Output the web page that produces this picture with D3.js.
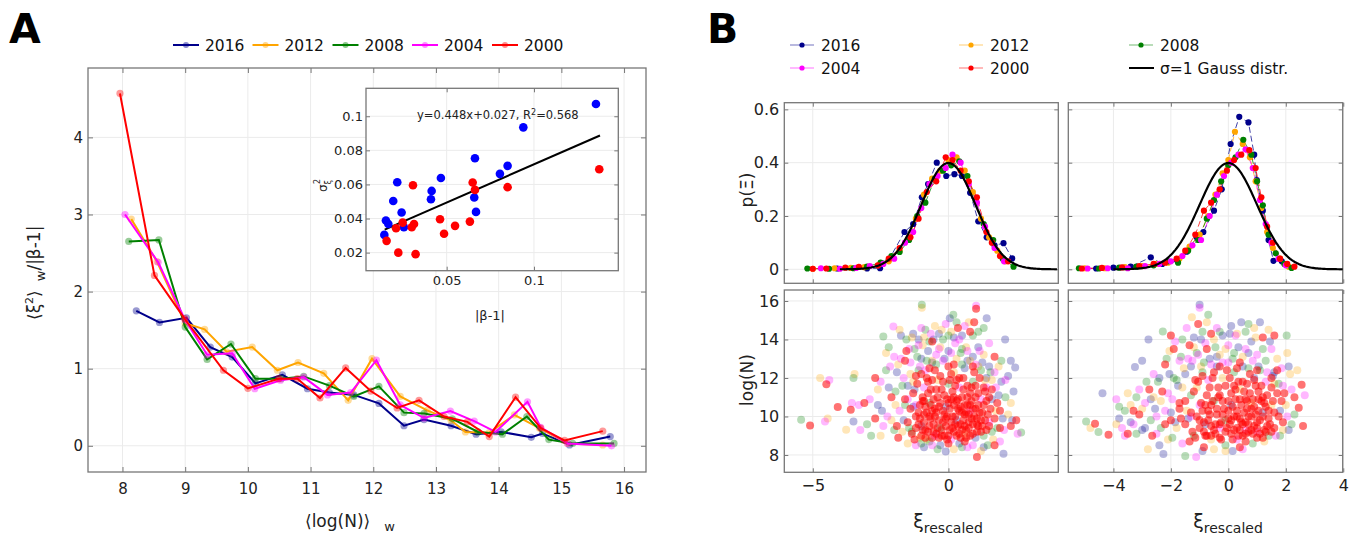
<!DOCTYPE html>
<html>
<head>
<meta charset="utf-8">
<title>Rescaled fluctuations</title>
<script src="https://cdn.jsdelivr.net/npm/d3@7"></script>
<style>
  body { margin: 0; background: #fff; }
  svg { font-family: "DejaVu Sans", Verdana, sans-serif; }
</style>
</head>
<body>
<script>
const years = ['2016', '2012', '2008', '2004', '2000'];
const yearColors = ['#00008b', '#ffa500', '#008000', '#ff00ff', '#ff0000'];

// panel A: <log(N)>_w  vs  <xi^2>_w / |beta-1|
const a2016 = [[8.22,1.75],[8.59,1.60],[9.02,1.66],[9.40,1.28],[9.75,1.15],[10.12,0.81],[10.55,0.92],[10.95,0.74],[11.3,0.69],[11.69,0.66],[12.09,0.55],[12.49,0.26],[12.81,0.34],[13.24,0.26],[13.64,0.15],[14.04,0.18],[14.52,0.11],[14.7,0.16],[15.13,0.01],[15.78,0.12]];
const a2012 = [[8.14,2.94],[8.55,2.39],[9.0,1.59],[9.31,1.51],[9.66,1.22],[10.07,1.28],[10.47,0.98],[10.80,1.08],[11.21,0.94],[11.6,0.59],[11.98,1.13],[12.43,0.64],[12.86,0.46],[13.24,0.33],[13.47,0.18],[13.85,0.17],[14.25,0.40],[14.65,0.23],[15.1,0.03],[15.66,0.01]];
const a2008 = [[8.1,2.65],[8.58,2.67],[9.0,1.54],[9.35,1.12],[9.73,1.32],[10.12,0.87],[10.53,0.87],[10.89,0.90],[11.3,0.78],[11.69,0.64],[12.09,0.77],[12.49,0.43],[12.81,0.42],[13.26,0.35],[13.67,0.18],[14.06,0.15],[14.45,0.38],[14.8,0.08],[15.18,0.03],[15.84,0.03]];
const a2004 = [[8.04,3.0],[8.57,2.38],[9.0,1.63],[9.35,1.18],[9.75,1.2],[10.11,0.74],[10.52,0.85],[10.89,0.89],[11.27,0.66],[11.64,0.69],[12.05,1.11],[12.43,0.53],[12.81,0.36],[13.23,0.45],[13.61,0.32],[13.95,0.18],[14.46,0.57],[14.67,0.24],[15.1,0.03],[15.8,0.0]];
const a2000 = [[7.96,4.57],[8.51,2.21],[8.99,1.65],[9.61,0.98],[10.0,0.745],[10.49,0.87],[10.79,0.87],[11.15,0.62],[11.56,1.01],[11.96,0.71],[12.38,0.49],[12.73,0.59],[13.13,0.38],[13.5,0.31],[13.85,0.12],[14.27,0.63],[14.67,0.23],[15.05,0.07],[15.66,0.19]];
const aTicksX = [8, 9, 10, 11, 12, 13, 14, 15, 16];
const aTicksY = [0, 1, 2, 3, 4];

// inset: |beta-1| vs sigma_xi^2
const insetBlue = [[0.1355,0.1072],[0.0939,0.0935],[0.0662,0.0754],[0.0849,0.0709],[0.0805,0.0662],[0.0467,0.0638],[0.0217,0.0613],[0.0414,0.0562],[0.041,0.0513],[0.0658,0.0523],[0.0194,0.0503],[0.0668,0.0439],[0.0242,0.0435],[0.0152,0.0388],[0.0166,0.0368],[0.0255,0.0349],[0.0143,0.0304]];
const insetRed = [[0.1374,0.0689],[0.0649,0.0611],[0.0662,0.0568],[0.0849,0.0584],[0.0307,0.0595],[0.0462,0.0396],[0.0633,0.0382],[0.0548,0.0357],[0.0485,0.0311],[0.0313,0.0368],[0.03,0.0349],[0.0248,0.0376],[0.021,0.0343],[0.0156,0.0269],[0.0223,0.02],[0.0322,0.0191]];
const fitSlope = 0.448, fitIntercept = 0.027, fitRange = [0.0145, 0.1378];
const insetTicksX = [0.05, 0.1];
const insetTicksY = [0.02, 0.04, 0.06, 0.08, 0.1];

// panel B top: p(xi), left and right
const pL2016 = [[-4.1,0.003],[-3.0,0.003],[-2.52,0.004],[-2.2,0.035],[-1.62,0.14],[-1.3,0.17],[-0.98,0.27],[-0.75,0.32],[-0.43,0.40],[-0.08,0.35],[0.22,0.357],[0.5,0.35],[0.8,0.287],[1.1,0.18],[1.41,0.12],[1.7,0.09],[2.03,0.098],[2.35,0.041]];
const pL2012 = [[-5.0,0.002],[-4.2,0.004],[-3.6,0.005],[-3.1,0.008],[-2.6,0.015],[-2.2,0.03],[-1.8,0.07],[-1.5,0.11],[-1.2,0.19],[-0.9,0.28],[-0.6,0.34],[-0.3,0.37],[0.0,0.41],[0.3,0.42],[0.6,0.37],[0.9,0.29],[1.2,0.19],[1.5,0.12],[1.8,0.07],[2.1,0.03]];
const pL2008 = [[-5.2,0.003],[-4.4,0.002],[-3.5,0.004],[-3.0,0.01],[-2.5,0.025],[-2.1,0.05],[-1.8,0.065],[-1.45,0.11],[-1.15,0.2],[-0.85,0.25],[-0.5,0.34],[-0.2,0.37],[0.1,0.39],[0.4,0.405],[0.7,0.35],[1.0,0.26],[1.3,0.17],[1.65,0.11],[2.0,0.04],[2.4,0.01]];
const pL2004 = [[-4.7,0.004],[-4.0,0.002],[-3.4,0.005],[-2.9,0.012],[-2.4,0.02],[-2.0,0.04],[-1.6,0.1],[-1.3,0.14],[-1.0,0.23],[-0.7,0.32],[-0.4,0.35],[-0.1,0.38],[0.15,0.43],[0.45,0.4],[0.75,0.32],[1.05,0.25],[1.35,0.16],[1.7,0.08],[2.05,0.03]];
const pL2000 = [[-5.0,0.002],[-4.5,0.003],[-3.8,0.006],[-3.3,0.009],[-2.6,0.015],[-2.2,0.04],[-1.8,0.08],[-1.4,0.12],[-1.1,0.19],[-0.8,0.29],[-0.45,0.33],[-0.1,0.42],[0.15,0.41],[0.45,0.37],[0.75,0.33],[1.05,0.27],[1.4,0.14],[1.6,0.1],[1.9,0.05],[2.2,0.03]];

const pR2016 = [[-4.6,0.003],[-4.0,0.006],[-3.4,0.01],[-2.7,0.045],[-2.3,0.02],[-1.77,0.032],[-1.45,0.066],[-1.1,0.12],[-0.87,0.14],[-0.5,0.22],[-0.23,0.30],[0.08,0.47],[0.38,0.572],[0.7,0.551],[0.9,0.43],[0.99,0.335],[1.2,0.22],[1.4,0.11],[1.57,0.032],[1.86,0.03]];
const pR2012 = [[-5.0,0.004],[-4.3,0.004],[-3.6,0.008],[-3.0,0.012],[-2.5,0.02],[-2.1,0.025],[-1.7,0.04],[-1.35,0.085],[-1.0,0.13],[-0.7,0.2],[-0.45,0.28],[-0.2,0.36],[0.0,0.41],[0.23,0.516],[0.5,0.47],[0.75,0.42],[0.95,0.33],[1.15,0.23],[1.35,0.14],[1.55,0.08],[1.8,0.04],[2.1,0.01]];
const pR2008 = [[-5.2,0.004],[-4.5,0.003],[-3.8,0.006],[-3.2,0.01],[-2.6,0.015],[-2.1,0.03],[-1.75,0.025],[-1.4,0.07],[-1.05,0.11],[-0.75,0.19],[-0.5,0.26],[-0.25,0.33],[0.0,0.39],[0.25,0.42],[0.52,0.486],[0.8,0.43],[1.0,0.33],[1.2,0.24],[1.4,0.13],[1.65,0.06],[1.95,0.02],[2.2,0.005]];
const pR2004 = [[-4.9,0.003],[-4.2,0.004],[-3.5,0.004],[-2.9,0.012],[-2.4,0.02],[-2.0,0.03],[-1.6,0.05],[-1.25,0.09],[-0.95,0.11],[-0.65,0.2],[-0.4,0.28],[-0.15,0.35],[0.1,0.40],[0.35,0.43],[0.6,0.45],[0.85,0.38],[1.1,0.26],[1.3,0.17],[1.5,0.1],[1.75,0.04],[2.0,0.015]];
const pR2000 = [[-5.1,0.003],[-4.4,0.005],[-3.7,0.007],[-3.1,0.012],[-2.6,0.02],[-2.2,0.025],[-1.8,0.04],[-1.5,0.07],[-1.15,0.13],[-0.85,0.22],[-0.6,0.25],[-0.3,0.30],[-0.05,0.37],[0.2,0.41],[0.45,0.43],[0.73,0.447],[0.95,0.38],[1.15,0.27],[1.35,0.16],[1.55,0.1],[1.8,0.04],[2.05,0.02],[2.3,0.01]];
const gaussRange = [-4, 4];

// panel B bottom: xi_rescaled vs log(N), [xi, logN, year index]
const sLmixed = [[-5.43,9.83,2],[-5.1,9.53,4],[-4.73,12.0,1],[-4.39,11.9,3],[-4.5,11.68,4],[-4.55,9.74,3],[-4.45,9.9,1],[-4.08,10.49,4],[-3.77,9.31,1],[-3.46,12.2,1],[-3.5,12.0,2],[-3.56,10.7,3],[-3.6,10.35,4],[-3.5,9.74,0],[-3.3,10.6,3],[-3.1,10.7,4],[-3.25,9.3,3],[-3.0,9.6,2],[-2.9,10.9,3],[-2.85,9.0,2],[-2.7,9.9,4],[-2.6,11.4,1],[-2.7,12.0,4],[-2.5,11.8,3],[-2.45,10.3,0],[-2.4,9.5,3],[-2.4,14.16,2],[-2.3,13.3,1],[-2.2,13.6,2],[-2.15,12.6,3],[-2.1,11.0,4],[-2.03,14.68,3],[-2.0,9.3,2],[-1.95,10.6,1],[-1.9,12.3,0],[-1.85,8.9,4],[-1.8,14.5,1],[-1.75,13.0,3],[-1.7,11.6,2],[-1.65,9.8,0],[-1.6,12.9,4],[-1.55,14.0,2],[-1.5,10.9,3],[-1.5,8.6,1],[-1.45,13.5,3],[-1.4,12.2,1],[-1.35,9.2,2],[-1.3,14.3,0],[-1.25,11.4,0],[-1.2,8.5,3],[-1.15,13.1,2],[-1.1,14.0,0],[-1.05,12.6,3],[-1.0,14.6,3],[-0.98,15.8,2],[-0.98,15.65,1],[-0.95,13.7,1],[-0.9,8.4,0],[-0.85,14.5,2],[-0.8,12.9,2],[-0.75,13.4,0],[-0.7,8.7,2],[-0.65,14.3,3],[-0.6,13.9,4],[-0.5,14.7,1],[-0.45,13.2,3],[-0.4,8.3,2],[-0.35,14.3,0],[-0.3,13.6,1],[-0.2,14.0,2],[-0.1,8.18,0],[-0.1,14.8,3],[0.0,13.4,0],[0.05,15.1,0],[0.1,14.4,1],[0.18,15.28,2],[0.2,8.3,1],[0.25,13.8,3],[0.3,14.9,2],[0.35,14.6,4],[0.4,8.6,0],[0.45,13.3,2],[0.5,14.2,0],[0.6,14.7,3],[0.65,13.6,1],[0.7,8.4,3],[0.75,14.9,1],[0.8,14.4,4],[0.9,13.1,0],[0.95,14.9,4],[1.02,15.75,3],[1.02,15.6,4],[1.05,7.89,4],[1.1,14.4,2],[1.15,13.4,3],[1.2,8.2,1],[1.25,12.8,0],[1.3,14.6,2],[1.35,11.9,1],[1.41,15.1,0],[1.45,8.5,2],[1.5,13.8,3],[1.55,12.3,2],[1.6,10.9,0],[1.65,8.8,1],[1.7,13.1,4],[1.75,11.5,3],[1.8,9.4,2],[1.85,12.6,1],[1.9,10.3,4],[1.95,11.8,0],[2.03,8.06,0],[2.05,9.3,3],[2.09,14.0,0],[2.1,11.0,2],[2.2,10.1,1],[2.3,12.9,0],[2.3,9.5,4],[2.4,11.3,0],[2.46,12.55,0],[2.5,9.8,4],[2.55,9.1,3],[2.68,9.17,2],
  [-1.3,11.8,1],[-1.2,10.6,3],[-1.1,12.4,2],[-1.0,9.5,0],[-0.9,11.5,3],[-0.8,8.8,1],[-0.7,10.7,2],[-0.6,12.8,0],[-0.5,9.0,3],[-0.4,11.9,1],[-0.3,9.4,2],[-0.2,12.9,3],[-0.1,10.5,0],[0.0,11.7,2],[0.1,8.8,3],[0.2,12.3,1],[0.3,9.8,0],[0.4,11.5,3],[0.5,12.7,2],[0.6,9.1,1],[0.7,12.9,0],[0.8,10.3,3],[0.9,11.8,2],[1.0,8.9,0],[1.1,12.6,1],[1.2,10.9,3],[1.3,9.0,2],[1.4,12.0,0],[1.5,9.7,3],[1.6,11.9,1],
  [-2.6,10.6,0],[-2.5,9.0,1],[-2.3,12.4,2],[-2.25,10.0,3],[-2.2,11.5,0],[-2.1,9.8,1],[-2.0,13.1,3],[-1.95,11.3,2],[-1.9,9.5,4],[-1.85,12.7,1],[-1.8,10.3,3],[-1.75,14.2,0],[-1.7,9.2,1],[-1.65,12.0,3],[-1.6,10.6,2],[-1.55,13.4,4],[-1.5,11.6,0],[-1.45,9.4,2],[-1.4,12.8,3],[-1.35,14.1,1],[-1.3,10.5,0],[-1.25,13.5,2],[-1.2,12.1,4],[-1.1,13.7,3],[-1.05,8.9,1],[-1.0,13.0,0],[-0.9,14.1,1],[-0.85,12.4,3],[-0.7,13.9,2],[-0.6,12.9,1],[-0.55,14.0,0],[-0.45,12.7,2],[-0.35,13.5,3],[-0.25,14.5,1],[-0.15,13.0,0],[0.0,14.2,2],[0.1,13.3,3],[0.2,14.1,0],[0.3,13.0,1],[0.4,14.0,3],[0.5,13.5,2],[0.6,12.5,0],[0.7,13.4,3],[0.8,12.9,1],[0.9,14.2,2],[1.0,12.7,3],[1.1,13.6,0],[1.2,12.4,2],[1.3,13.2,1],[1.4,11.5,3],[1.5,12.6,0],[1.6,9.2,2],[1.7,12.3,3],[1.75,10.3,1],[1.85,11.1,0],[1.9,8.7,3],[1.95,12.9,2],[2.0,9.9,0],[2.1,11.9,3],[2.2,12.1,0],[2.3,10.7,1],[2.35,9.8,0],[-0.3,8.5,0],[0.5,8.4,2],[0.9,8.5,3],[1.3,8.4,0],[-0.6,8.5,3],[-1.0,8.6,2],[1.7,8.5,4]];
const sLred = [[-1.2,9.4],[-1.1,10.2],[-1.0,9.0],[-0.95,11.0],[-0.9,9.7],[-0.85,10.5],[-0.8,12.0],[-0.75,9.2],[-0.7,10.0],[-0.65,11.4],[-0.6,8.9],[-0.55,9.6],[-0.5,10.4],[-0.5,12.4],[-0.45,9.1],[-0.4,11.0],[-0.35,9.8],[-0.3,10.7],[-0.25,9.3],[-0.2,11.8],[-0.15,10.1],[-0.1,9.5],[-0.05,10.9],[0.0,9.0],[0.0,12.6],[0.05,10.4],[0.1,9.7],[0.15,11.3],[0.2,9.2],[0.25,10.0],[0.3,10.8],[0.35,9.5],[0.4,12.0],[0.4,10.3],[0.45,8.9],[0.5,11.0],[0.55,9.8],[0.6,10.6],[0.65,9.3],[0.7,11.6],[0.75,10.1],[0.8,9.0],[0.85,10.8],[0.9,9.6],[0.95,12.3],[1.0,10.4],[1.05,9.2],[1.1,11.2],[1.2,9.8],[1.3,10.6],[1.4,9.3],[1.5,11.0],
  [-1.05,9.9],[-0.95,10.8],[-0.85,9.3],[-0.75,11.2],[-0.65,9.9],[-0.55,10.9],[-0.45,10.2],[-0.35,8.9],[-0.25,11.4],[-0.15,9.0],[-0.05,10.0],[0.05,11.9],[0.1,10.9],[0.15,9.4],[0.25,11.6],[0.3,9.0],[0.35,10.4],[0.45,9.6],[0.5,10.2],[0.55,11.4],[0.6,9.5],[0.65,10.2],[0.75,9.4],[0.8,11.2],[0.85,9.9],[0.9,10.4],[1.0,11.6],[1.05,9.9],[1.15,10.2],[1.25,9.5],[1.35,11.3],[1.45,10.1],[-0.6,10.3],[-0.2,9.7],[0.2,10.6],[0.7,10.6],[-0.9,10.1],[1.1,9.5],
  [-1.4,10.4],[-1.35,9.1],[-1.3,11.2],[-1.25,8.8],[-1.2,10.0],[-1.15,11.7],[-1.1,9.6],[-1.05,10.6],[-1.0,12.2],[-0.95,9.3],[-0.9,10.8],[-0.85,8.9],[-0.8,10.2],[-0.75,11.8],[-0.7,9.5],[-0.65,10.6],[-0.6,11.9],[-0.55,9.2],[-0.5,10.0],[-0.45,11.4],[-0.4,9.4],[-0.35,10.5],[-0.3,12.1],[-0.25,9.0],[-0.2,10.3],[-0.15,11.1],[-0.1,9.9],[-0.05,8.8],[0.0,10.7],[0.05,9.3],[0.1,12.2],[0.15,10.0],[0.2,11.0],[0.25,9.6],[0.3,11.9],[0.35,10.9],[0.4,9.1],[0.45,10.5],[0.5,9.3],[0.55,12.0],[0.6,10.1],[0.65,8.9],[0.7,11.0],[0.75,9.7],[0.8,10.6],[0.85,11.5],[0.9,9.1],[0.95,10.0],[1.0,11.0],[1.05,9.6],[1.1,10.6],[1.15,12.0],[1.2,9.2],[1.25,10.2],[1.3,11.5],[1.35,9.8],[1.4,10.8],[1.5,9.5],[1.55,10.4],[1.6,11.4],[1.7,9.9],[1.8,10.7],[-0.7,12.5],[0.2,12.7],[0.9,12.6],[-1.5,9.7],[-1.6,10.9],[1.9,9.4],[0.0,8.6],[0.6,8.7]];

const sRmixed = [[-4.95,9.74,2],[-4.64,9.62,4],[-4.8,9.4,1],[-4.52,9.19,2],[-4.17,9.05,4],[-4.38,11.2,0],[-3.9,10.9,3],[-3.8,9.9,0],[-3.7,9.4,3],[-3.6,10.3,2],[-3.5,9.1,4],[-3.4,10.6,1],[-3.3,9.6,3],[-3.25,12.57,0],[-3.2,11.0,2],[-3.1,10.1,4],[-3.0,12.9,0],[-3.0,9.3,0],[-2.9,10.7,3],[-2.8,8.3,1],[-2.78,14.0,0],[-2.75,11.4,4],[-2.7,9.8,2],[-2.6,12.2,3],[-2.55,10.4,0],[-2.5,9.1,3],[-2.45,11.8,2],[-2.4,8.5,0],[-2.35,10.8,1],[-2.28,14.42,2],[-2.26,8.05,0],[-2.2,12.7,4],[-2.2,9.6,4],[-2.1,11.2,3],[-2.05,13.4,1],[-2.0,14.2,4],[-2.0,10.2,0],[-1.95,8.9,2],[-1.9,12.0,2],[-1.85,13.9,3],[-1.8,9.4,1],[-1.75,11.6,0],[-1.7,10.7,4],[-1.65,13.1,2],[-1.6,8.6,3],[-1.55,12.5,1],[-1.5,7.95,2],[-1.45,14.6,3],[-1.4,9.9,0],[-1.35,13.7,4],[-1.3,11.1,2],[-1.27,15.16,1],[-1.25,12.9,3],[-1.2,14.1,0],[-1.12,7.9,3],[-1.1,13.3,2],[-1.05,14.8,4],[-1.0,15.8,0],[-1.0,15.65,3],[-0.95,12.6,1],[-0.9,14.4,2],[-0.85,8.4,4],[-0.8,13.8,3],[-0.75,14.9,1],[-0.7,15.28,2],[-0.65,13.0,0],[-0.6,14.3,4],[-0.5,8.3,1],[-0.45,13.6,2],[-0.4,14.6,3],[-0.3,13.2,1],[-0.2,14.2,0],[-0.1,8.5,2],[0.0,13.7,3],[0.1,14.7,0],[0.15,8.2,0],[0.2,13.3,2],[0.3,14.3,1],[0.4,12.8,4],[0.45,14.9,0],[0.5,8.3,3],[0.6,13.5,3],[0.7,14.8,2],[0.8,13.9,0],[0.85,8.6,2],[0.9,14.6,1],[1.0,13.2,3],[1.1,14.9,0],[1.2,14.1,4],[1.25,8.7,1],[1.3,12.9,2],[1.4,14.5,1],[1.5,13.5,3],[1.55,12.1,0],[1.6,14.2,4],[1.65,9.0,3],[1.7,13.0,1],[1.75,11.7,2],[1.8,10.3,0],[1.85,12.5,3],[1.9,9.3,1],[1.95,11.2,4],[2.03,14.2,2],[2.05,10.0,3],[2.1,12.6,0],[2.15,12.2,1],[2.2,9.6,2],[2.3,11.0,4],[2.45,10.45,4],[2.55,11.65,4],[2.6,9.5,4],[2.66,11.1,3],[2.4,12.4,1],
  [-1.1,11.5,1],[-1.0,10.6,3],[-0.9,12.3,2],[-0.8,9.6,0],[-0.7,11.9,3],[-0.6,8.8,1],[-0.5,10.8,2],[-0.4,12.6,0],[-0.3,9.4,3],[-0.2,12.0,1],[-0.1,9.8,2],[0.0,12.8,3],[0.1,10.6,0],[0.2,12.3,2],[0.3,8.8,3],[0.4,11.4,1],[0.5,12.6,0],[0.6,9.3,3],[0.7,12.5,2],[0.8,10.7,1],[0.9,12.0,0],[1.0,9.2,3],[1.1,12.4,2],[1.2,10.2,0],[1.3,11.8,3],[1.4,9.0,2],[1.5,10.6,1],[1.6,12.3,0],[-1.3,10.0,3],[-1.5,10.8,4],[-1.6,11.5,1],[-1.2,9.0,2],
  [-3.9,9.6,1],[-3.8,10.5,2],[-3.6,9.0,3],[-3.5,11.2,1],[-3.4,9.7,0],[-3.3,10.3,4],[-3.2,9.1,2],[-3.1,11.4,3],[-3.0,10.4,1],[-2.9,9.4,0],[-2.85,11.8,2],[-2.7,10.9,0],[-2.65,9.0,4],[-2.6,11.0,1],[-2.5,10.0,3],[-2.4,12.0,0],[-2.35,9.4,2],[-2.3,11.3,4],[-2.2,10.3,3],[-2.15,13.0,2],[-2.1,8.8,1],[-2.05,12.2,0],[-1.95,10.9,3],[-1.9,13.5,4],[-1.85,9.7,0],[-1.8,11.9,2],[-1.7,12.9,3],[-1.65,9.9,4],[-1.6,14.0,2],[-1.5,12.2,0],[-1.45,10.3,1],[-1.4,13.0,3],[-1.35,8.7,4],[-1.3,12.6,0],[-1.2,13.6,1],[-1.15,11.9,4],[-1.05,13.2,3],[-0.95,14.0,0],[-0.85,12.8,2],[-0.75,13.5,4],[-0.6,12.7,3],[-0.5,14.0,1],[-0.4,13.1,0],[-0.3,14.4,2],[-0.2,12.8,3],[-0.1,13.5,1],[0.05,14.3,0],[0.15,13.0,2],[0.25,14.2,3],[0.35,13.6,0],[0.5,13.1,1],[0.6,14.4,2],[0.7,13.3,0],[0.85,12.9,3],[0.95,14.1,1],[1.05,12.6,0],[1.2,13.5,2],[1.35,12.3,3],[1.45,13.9,0],[1.6,11.7,1],[1.7,12.4,4],[1.8,9.0,2],[1.9,11.6,3],[2.0,10.6,1],[2.1,9.3,0],[2.2,11.4,3],[2.3,10.1,2],[2.05,13.3,1],[-0.9,8.2,0],[-0.1,8.2,1],[0.4,8.4,4]];
const sRred = [[-1.0,9.4],[-0.9,10.3],[-0.8,9.0],[-0.75,11.1],[-0.7,9.8],[-0.6,10.6],[-0.55,12.0],[-0.5,9.3],[-0.4,10.1],[-0.35,11.5],[-0.3,8.9],[-0.25,9.7],[-0.2,10.8],[-0.1,9.2],[-0.05,12.4],[0.0,10.3],[0.05,9.6],[0.1,11.2],[0.15,8.8],[0.2,10.0],[0.25,10.9],[0.3,9.4],[0.35,11.8],[0.4,9.9],[0.45,10.6],[0.5,9.0],[0.55,11.3],[0.6,9.7],[0.65,10.4],[0.7,9.2],[0.75,12.2],[0.8,10.0],[0.85,10.9],[0.9,9.5],[0.95,11.6],[1.0,8.9],[1.05,10.3],[1.1,9.8],[1.2,11.0],[1.25,9.3],[1.3,10.5],[1.4,9.9],[1.5,11.5],[1.6,10.2],[-0.85,9.7],[-0.65,10.1],[-0.45,9.6],[-0.15,10.4],[0.1,9.1],[0.3,10.3],[0.5,9.6],[0.6,10.9],[0.7,10.0],[0.8,9.3],[0.9,10.5],[1.0,9.7],[1.15,10.8],[1.35,9.5],[0.2,11.6],[-0.3,11.1],[0.4,9.3],[0.65,11.7],[1.05,11.3],[-0.6,9.0],[0.0,9.9],[1.5,9.2],
  [-1.3,10.2],[-1.25,9.2],[-1.2,11.3],[-1.15,8.9],[-1.1,10.0],[-1.05,11.8],[-1.0,9.8],[-0.95,10.7],[-0.9,12.1],[-0.85,9.2],[-0.8,10.6],[-0.75,9.0],[-0.7,10.3],[-0.65,11.5],[-0.6,9.5],[-0.55,10.8],[-0.5,12.3],[-0.45,9.1],[-0.4,10.4],[-0.35,11.0],[-0.3,9.6],[-0.25,8.8],[-0.2,10.1],[-0.1,11.6],[-0.05,9.4],[0.0,10.8],[0.05,12.0],[0.1,9.8],[0.15,10.5],[0.2,9.3],[0.25,11.4],[0.3,10.0],[0.35,9.0],[0.4,10.9],[0.45,9.7],[0.5,11.8],[0.55,10.2],[0.6,9.1],[0.65,10.8],[0.7,9.6],[0.75,11.2],[0.8,10.4],[0.85,9.1],[0.9,11.9],[0.95,10.1],[1.0,9.4],[1.05,10.9],[1.1,9.1],[1.15,11.6],[1.2,10.0],[1.25,10.7],[1.3,9.2],[1.35,11.1],[1.4,10.3],[1.45,9.6],[1.5,12.0],[1.55,10.8],[1.6,9.4],[1.7,11.2],[1.75,10.0],[1.85,10.8],[1.9,9.7],[-1.5,9.6],[-1.7,10.4],[0.3,12.5],[1.0,12.4],[-0.3,12.6],[0.6,8.7],[1.2,8.9],[-2.0,9.8]];

const bTicksLX = [-5, 0];
const bTicksRX = [-4, -2, 0, 2, 4];
const bTicksPY = [0, 0.2, 0.4, 0.6];
const bTicksNY = [8, 10, 12, 14, 16];

const svg = d3.select('body').append('svg').attr('width', 1359).attr('height', 542);
const fmt = d3.format('~g');
const font = '"DejaVu Sans", Verdana, sans-serif';

// framed panel with grid and inward ticks on all sides
function framed(x, y, xt, yt, o) {
  const [l, r] = x.range(), [b, t] = y.range();
  const g = svg.append('g');
  g.append('rect').attr('x', l).attr('y', t).attr('width', r - l).attr('height', b - t).attr('fill', '#fff');
  g.selectAll('.gx').data(xt).enter().append('line').attr('class', 'gx')
    .attr('x1', d => x(d)).attr('x2', d => x(d)).attr('y1', t).attr('y2', b)
    .attr('stroke', '#ebebeb');
  g.selectAll('.gy').data(yt).enter().append('line').attr('class', 'gy')
    .attr('y1', d => y(d)).attr('y2', d => y(d)).attr('x1', l).attr('x2', r)
    .attr('stroke', '#ebebeb');
  const ts = o.tick || 5;
  g.append('g').attr('transform', `translate(0,${b})`)
    .call(d3.axisBottom(x).tickValues(xt).tickSize(-ts).tickPadding(o.padX).tickFormat(o.showX ? fmt : ''));
  g.append('g').attr('transform', `translate(0,${t})`)
    .call(d3.axisTop(x).tickValues(xt).tickSize(-ts).tickFormat(''));
  g.append('g').attr('transform', `translate(${l},0)`)
    .call(d3.axisLeft(y).tickValues(yt).tickSize(-ts).tickPadding(o.padY).tickFormat(o.showY ? fmt : ''));
  g.append('g').attr('transform', `translate(${r},0)`)
    .call(d3.axisRight(y).tickValues(yt).tickSize(-ts).tickFormat(''));
  g.selectAll('.domain').remove();
  g.selectAll('g').attr('font-family', font).attr('font-size', o.fs);
  g.selectAll('.tick line').attr('stroke', '#777');
  g.selectAll('.tick text').attr('fill', '#222');
  g.append('rect').attr('x', l).attr('y', t).attr('width', r - l).attr('height', b - t)
    .attr('fill', 'none').attr('stroke', '#777').attr('stroke-width', 1.3);
  const id = 'c' + Math.round(l) + '_' + Math.round(t);
  svg.append('clipPath').attr('id', id).append('rect')
    .attr('x', l).attr('y', t).attr('width', r - l).attr('height', b - t);
  return g.append('g').attr('clip-path', `url(#${id})`);
}

// ---------- panel A ----------
const xA = d3.scaleLinear().domain([7.45, 16.35]).range([88, 646]);
const yA = d3.scaleLinear().domain([-0.34, 4.9]).range([472, 68]);
const gA = framed(xA, yA, aTicksX, aTicksY, {showX: true, showY: true, padX: 11, padY: 5, fs: 15});

const aSeries = [a2016, a2012, a2008, a2004, a2000];
const lineA = d3.line().x(d => xA(d[0])).y(d => yA(d[1]));
aSeries.forEach((s, i) => {
  gA.append('path').datum(s).attr('d', lineA)
    .attr('fill', 'none').attr('stroke', yearColors[i]).attr('stroke-width', 2);
  gA.selectAll('.m' + i).data(s).enter().append('circle').attr('class', 'm' + i)
    .attr('cx', d => xA(d[0])).attr('cy', d => yA(d[1])).attr('r', 3.6)
    .attr('fill', yearColors[i]).attr('fill-opacity', 0.4);
});

// legend A
const legA = [173, 252.5, 332.5, 412, 492];
years.forEach((yr, i) => {
  const lx = legA[i];
  svg.append('line').attr('x1', lx).attr('x2', lx + 26).attr('y1', 45).attr('y2', 45)
    .attr('stroke', yearColors[i]).attr('stroke-width', 2);
  svg.append('circle').attr('cx', lx + 13).attr('cy', 45).attr('r', 3)
    .attr('fill', yearColors[i]).attr('fill-opacity', 0.45);
  svg.append('text').attr('x', lx + 32).attr('y', 50.5).attr('font-size', 15.5)
    .attr('fill', '#111').text(yr);
});

svg.append('text').attr('x', 9).attr('y', 43).attr('font-size', 41).attr('font-weight', 'bold').text('A');
svg.append('text').attr('x', 707).attr('y', 43).attr('font-size', 41).attr('font-weight', 'bold').text('B');

// axis labels A
const xlabA = svg.append('text').attr('x', 305).attr('y', 527).attr('font-size', 17).attr('fill', '#222');
xlabA.append('tspan').text('⟨log(N)⟩');
xlabA.append('tspan').attr('dx', 14).attr('dy', 4).attr('font-size', 13).text('w');

const ylabA = svg.append('text').attr('transform', 'translate(40,320) rotate(-90)')
  .attr('font-size', 17).attr('fill', '#222');
ylabA.append('tspan').text('⟨ξ');
ylabA.append('tspan').attr('dy', -7).attr('font-size', 11).text('2');
ylabA.append('tspan').attr('dy', 7).text('⟩');
ylabA.append('tspan').attr('dx', 9).attr('dy', 5).attr('font-size', 13).text('w');
ylabA.append('tspan').attr('dy', -5).text('/|β-1|');

// ---------- inset ----------
const xI = d3.scaleLinear().domain([0.0038, 0.1483]).range([366, 618.3]);
const yI = d3.scaleLinear().domain([0.0094, 0.1164]).range([270.7, 88.3]);
const gI = framed(xI, yI, insetTicksX, insetTicksY, {showX: true, showY: true, padX: 5, padY: 3, fs: 13, tick: 4});

gI.append('line').attr('x1', xI(fitRange[0])).attr('y1', yI(fitSlope * fitRange[0] + fitIntercept))
  .attr('x2', xI(fitRange[1])).attr('y2', yI(fitSlope * fitRange[1] + fitIntercept))
  .attr('stroke', '#000').attr('stroke-width', 2);
gI.selectAll('.ib').data(insetBlue).enter().append('circle').attr('class', 'ib')
  .attr('cx', d => xI(d[0])).attr('cy', d => yI(d[1])).attr('r', 4.3).attr('fill', '#0000ff');
gI.selectAll('.ir').data(insetRed).enter().append('circle').attr('class', 'ir')
  .attr('cx', d => xI(d[0])).attr('cy', d => yI(d[1])).attr('r', 4.3).attr('fill', '#ff0000');

const fitText = svg.append('text').attr('x', 417).attr('y', 119).attr('font-size', 11.5).attr('fill', '#222');
fitText.append('tspan').text(`y=${fitSlope}x+${fitIntercept}, R`);
fitText.append('tspan').attr('dy', -4).attr('font-size', 8).text('2');
fitText.append('tspan').attr('dy', 4).text('=0.568');

svg.append('text').attr('x', 490).attr('y', 320).attr('text-anchor', 'middle')
  .attr('font-size', 13).attr('fill', '#222').text('|β-1|');
const ylabI = svg.append('text').attr('transform', 'translate(327,192) rotate(-90)')
  .attr('font-size', 12).attr('fill', '#222');
ylabI.append('tspan').text('σ');
ylabI.append('tspan').attr('dy', 4).attr('font-size', 8).text('ξ');
ylabI.append('tspan').attr('dx', -4).attr('dy', -11).attr('font-size', 8).text('2');

// ---------- panel B ----------
const xBL = d3.scaleLinear().domain([-6.05, 4.05]).range([784.3, 1058.3]);
const xBR = d3.scaleLinear().domain([-5.57, 3.98]).range([1068.3, 1342.7]);
const yBP = d3.scaleLinear().domain([-0.0525, 0.625]).range([283.3, 102.7]);
const yBN = d3.scaleLinear().domain([7.1, 16.57]).range([472.3, 290]);

const gTL = framed(xBL, yBP, bTicksLX, bTicksPY, {showX: false, showY: true, padX: 7, padY: 5, fs: 16, tick: 4});
const gTR = framed(xBR, yBP, bTicksRX, bTicksPY, {showX: false, showY: false, padX: 7, padY: 5, fs: 16, tick: 4});
const gBL = framed(xBL, yBN, bTicksLX, bTicksNY, {showX: true, showY: true, padX: 7, padY: 5, fs: 16, tick: 4});
const gBR = framed(xBR, yBN, bTicksRX, bTicksNY, {showX: true, showY: false, padX: 7, padY: 5, fs: 16, tick: 4});

function drawP(g, x, series) {
  const line = d3.line().x(d => x(d[0])).y(d => yBP(d[1]));
  series.forEach((s, i) => {
    g.append('path').datum(s).attr('d', line).attr('fill', 'none')
      .attr('stroke', yearColors[i]).attr('stroke-opacity', 0.75)
      .attr('stroke-width', 1).attr('stroke-dasharray', '6,3');
  });
  series.forEach((s, i) => {
    g.selectAll('.p' + i).data(s).enter().append('circle').attr('class', 'p' + i)
      .attr('cx', d => x(d[0])).attr('cy', d => yBP(d[1])).attr('r', 3.1)
      .attr('fill', yearColors[i]);
  });
  const gx = d3.range(gaussRange[0], gaussRange[1] + 0.001, 0.05);
  g.append('path').datum(gx)
    .attr('d', d3.line().x(d => x(d)).y(d => yBP(Math.exp(-d * d / 2) / Math.sqrt(2 * Math.PI))))
    .attr('fill', 'none').attr('stroke', '#000').attr('stroke-width', 2.2);
}
drawP(gTL, xBL, [pL2016, pL2012, pL2008, pL2004, pL2000]);
drawP(gTR, xBR, [pR2016, pR2012, pR2008, pR2004, pR2000]);

function drawS(g, x, mixed, red) {
  const pts = mixed.concat(red.map(d => [d[0], d[1], 4])).sort((a, b) => a[2] - b[2]);
  g.selectAll('.s').data(pts).enter().append('circle').attr('class', 's')
    .attr('cx', d => x(d[0])).attr('cy', d => yBN(d[1])).attr('r', 4)
    .attr('fill', d => yearColors[d[2]]).attr('fill-opacity', d => d[2] === 4 ? 0.55 : 0.28);
}
drawS(gBL, xBL, sLmixed, sLred);
drawS(gBR, xBR, sRmixed, sRred);

// legend B
const legBx = [790, 959, 1129];
const legBy = [45, 68];
years.forEach((yr, i) => {
  const lx = legBx[i % 3], ly = legBy[Math.floor(i / 3)];
  svg.append('line').attr('x1', lx).attr('x2', lx + 24).attr('y1', ly).attr('y2', ly)
    .attr('stroke', yearColors[i]).attr('stroke-opacity', 0.55).attr('stroke-width', 1);
  svg.append('circle').attr('cx', lx + 12).attr('cy', ly).attr('r', 2.6).attr('fill', yearColors[i]);
  svg.append('text').attr('x', lx + 31).attr('y', ly + 5.5).attr('font-size', 15.5).attr('fill', '#111').text(yr);
});
svg.append('line').attr('x1', 1129).attr('x2', 1154).attr('y1', 68).attr('y2', 68)
  .attr('stroke', '#000').attr('stroke-width', 2);
svg.append('text').attr('x', 1160).attr('y', 73.5).attr('font-size', 15.5).attr('fill', '#111').text('σ=1 Gauss distr.');

// axis labels B
svg.append('text').attr('transform', 'translate(753,190) rotate(-90)').attr('text-anchor', 'middle')
  .attr('font-size', 17).attr('fill', '#222').text('p(Ξ)');
svg.append('text').attr('transform', 'translate(753,380) rotate(-90)').attr('text-anchor', 'middle')
  .attr('font-size', 17).attr('fill', '#222').text('log(N)');
[948, 1228].forEach(cx => {
  const t = svg.append('text').attr('x', cx).attr('y', 528).attr('text-anchor', 'middle')
    .attr('font-size', 19).attr('fill', '#222');
  t.append('tspan').text('ξ');
  t.append('tspan').attr('dy', 5).attr('font-size', 14).text('rescaled');
});
</script>
</body>
</html>
